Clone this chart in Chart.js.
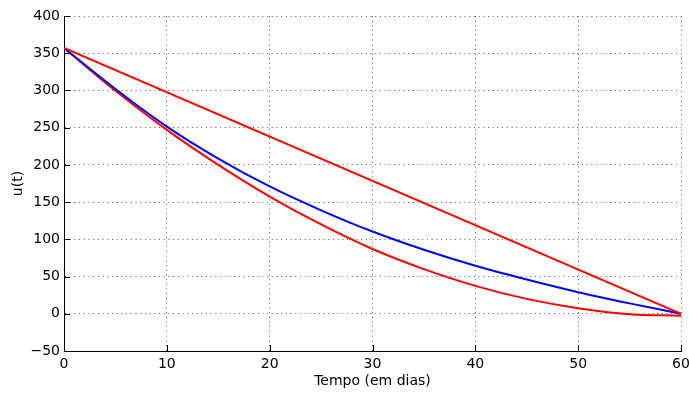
<!DOCTYPE html>
<html>
<head>
<meta charset="utf-8">
<script src="https://cdn.jsdelivr.net/npm/chart.js@4/dist/chart.umd.min.js"></script>
<style>
html,body{margin:0;padding:0;background:#fff;}
#wrap{width:689px;height:394px;}
</style>
</head>
<body>
<div id="wrap"><canvas id="c" width="689" height="394"></canvas></div>
<script>
// Data
const days = [0, 5, 10, 15, 20, 25, 30, 35, 40, 45, 50, 55, 60];
const blueSeries = [357, 302, 251.5, 208.5, 171, 139, 110.5, 86, 64.5, 46, 29, 14, 0];
const redLowerSeries = [357, 299.5, 247, 200, 157.5, 120, 87, 60, 37.5, 20, 7.5, -0.5, -2.5];
const redUpperDays = [0, 60];
const redUpperSeries = [357, 0];
const xTicks = [0, 10, 20, 30, 40, 50, 60];
const yTicks = [-50, 0, 50, 100, 150, 200, 250, 300, 350, 400];

const pts = (xs, ys) => xs.map((x, i) => ({x: x, y: ys[i]}));

const FONT = 'DejaVu Sans, Liberation Sans, Arial, sans-serif';

const inwardTicks = {
  id: 'inwardTicks',
  afterDraw(chart) {
    const ctx = chart.ctx;
    const xs = chart.scales.x, ys = chart.scales.y;
    const a = chart.chartArea;
    ctx.save();
    ctx.strokeStyle = '#000';
    ctx.lineWidth = 1;
    ctx.beginPath();
    yTicks.forEach(v => {
      const py = Math.round(ys.getPixelForValue(v)) + 0.5;
      ctx.moveTo(a.left, py); ctx.lineTo(a.left + 6, py);
    });
    xTicks.forEach(v => {
      const px = Math.round(xs.getPixelForValue(v)) + 0.5;
      ctx.moveTo(px, a.bottom); ctx.lineTo(px, a.bottom - 6);
    });
    ctx.stroke();
    ctx.restore();
  }
};

new Chart(document.getElementById('c'), {
  type: 'line',
  data: {
    datasets: [
      {data: pts(redUpperDays, redUpperSeries), borderColor: '#ff0000', borderWidth: 2, pointRadius: 0, tension: 0},
      {data: pts(days, blueSeries), borderColor: '#0000ff', borderWidth: 2, pointRadius: 0, cubicInterpolationMode: 'monotone'},
      {data: pts(days, redLowerSeries), borderColor: '#ff0000', borderWidth: 2, pointRadius: 0, cubicInterpolationMode: 'monotone'}
    ]
  },
  options: {
    responsive: false,
    devicePixelRatio: 1,
    animation: false,
    layout: {padding: {left: 0, right: 0, top: 16, bottom: 0}},
    plugins: {legend: {display: false}, tooltip: {enabled: false}},
    scales: {
      x: {
        type: 'linear', min: 0, max: 60,
        afterBuildTicks: s => { s.ticks = xTicks.map(v => ({value: v})); },
        afterFit: s => { s.height = 43; s.paddingRight = 8; s.paddingLeft = 0; },
        ticks: {color: '#000', font: {family: FONT, size: 14}, padding: 5, maxRotation: 0},
        grid: {color: '#555', lineWidth: 1, drawTicks: false},
        border: {display: true, color: '#000', width: 1, dash: [1, 3.7]},
        title: {display: true, text: 'Tempo (em dias)', color: '#000', font: {family: FONT, size: 14}, padding: {top: 0, bottom: 4}}
      },
      y: {
        type: 'linear', min: -50, max: 400,
        afterBuildTicks: s => { s.ticks = yTicks.map(v => ({value: v})); },
        afterFit: s => { s.width = 64; s.paddingTop = 0; s.paddingBottom = 0; },
        ticks: {color: '#000', font: {family: FONT, size: 14}, padding: 4,
                callback: v => v < 0 ? '\u2212' + Math.abs(v) : String(v)},
        grid: {color: '#555', lineWidth: 1, drawTicks: false},
        border: {display: true, color: '#000', width: 1, dash: [1, 3.7]},
        title: {display: true, text: 'u(t)', color: '#000', font: {family: FONT, size: 14}, padding: {top: 10, bottom: 0}}
      }
    }
  },
  plugins: [inwardTicks]
});
</script>
</body>
</html>
